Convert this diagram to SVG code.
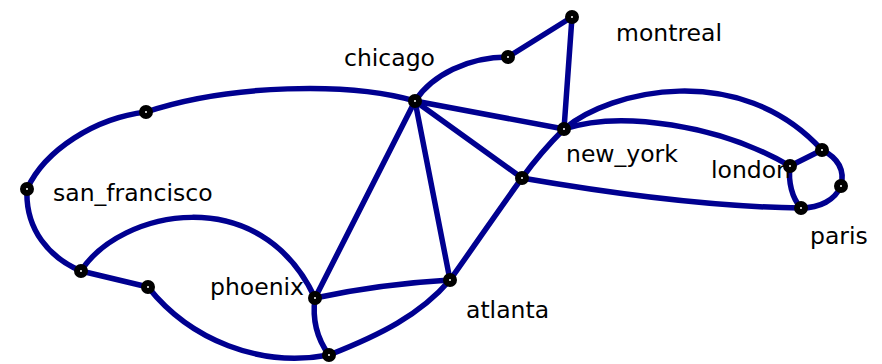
<svg xmlns="http://www.w3.org/2000/svg" width="882" height="364" viewBox="0 0 882 364">
<style>
.e{fill:none;stroke:#000090;stroke-width:5.5;stroke-linecap:round;stroke-linejoin:round}
.n{fill:#fff;stroke:#000;stroke-width:6}
.t{font-family:"DejaVu Sans",sans-serif;font-size:23.5px;fill:#000}
</style>
<rect width="882" height="364" fill="#fff"/>
<g id="connectors">
<path class="e" d="M415,101 C432,75 468,57 508,57"/>
<path class="e" d="M508,57 L572,17 L564,129"/>
<path class="e" d="M415,101 C350,82 230,84 146,112"/>
<path class="e" d="M146,112 C95,118 45,150 27,189"/>
<path class="e" d="M27,189 C25,230 50,258 81,271"/>
<path class="e" d="M81,271 L148,287"/>
<path class="e" d="M81,271 C120,210 260,180 315,298"/>
<path class="e" d="M148,287 C190,340 260,368 329,355"/>
<path class="e" d="M315,298 Q380,284 450,280"/>
<path class="e" d="M315,298 C312,320 318,340 329,355"/>
<path class="e" d="M329,355 C380,335 420,315 450,280"/>
<path class="e" d="M450,280 C475,245 500,208 522,178 C535,160 548,145 564,129"/>
<path class="e" d="M415,101 L564,129"/>
<path class="e" d="M415,101 L522,178"/>
<path class="e" d="M415,101 L450,280"/>
<path class="e" d="M415,101 L315,298"/>
<path class="e" d="M522,178 C620,195 720,207 801,208"/>
<path class="e" d="M564,129 C620,110 720,125 790,166"/>
<path class="e" d="M564,129 C610,90 740,60 822,150"/>
<path class="e" d="M790,166 L822,150"/>
<path class="e" d="M822,150 C838,158 845,170 841,186"/>
<path class="e" d="M841,186 C835,200 820,208 801,208"/>
<path class="e" d="M790,166 C788,182 792,198 801,208"/>
</g>
<g id="chicago"><text class="t" x="344" y="66">chicago</text><circle class="n" cx="415" cy="101" r="4"/></g>
<g id="montreal"><text class="t" x="616" y="41">montreal</text><circle class="n" cx="572" cy="17" r="4"/></g>
<g id="new_york"><text class="t" x="566" y="162">new_york</text><circle class="n" cx="564" cy="129" r="4"/></g>
<g id="london"><text class="t" x="711" y="178">london</text><circle class="n" cx="790" cy="166" r="4"/></g>
<g id="paris"><text class="t" x="810" y="244">paris</text><circle class="n" cx="801" cy="208" r="4"/></g>
<g id="san_francisco"><text class="t" x="53" y="201">san_francisco</text><circle class="n" cx="27" cy="189" r="4"/></g>
<g id="phoenix"><text class="t" x="210" y="295">phoenix</text><circle class="n" cx="315" cy="298" r="4"/></g>
<g id="atlanta"><text class="t" x="466" y="318">atlanta</text><circle class="n" cx="450" cy="280" r="4"/></g>
<g id="w1"><circle class="n" cx="508" cy="57" r="4"/></g>
<g id="w2"><circle class="n" cx="522" cy="178" r="4"/></g>
<g id="w3"><circle class="n" cx="146" cy="112" r="4"/></g>
<g id="w4"><circle class="n" cx="81" cy="271" r="4"/></g>
<g id="w5"><circle class="n" cx="148" cy="287" r="4"/></g>
<g id="w6"><circle class="n" cx="329" cy="355" r="4"/></g>
<g id="w7"><circle class="n" cx="822" cy="150" r="4"/></g>
<g id="w8"><circle class="n" cx="841" cy="186" r="4"/></g>
</svg>
